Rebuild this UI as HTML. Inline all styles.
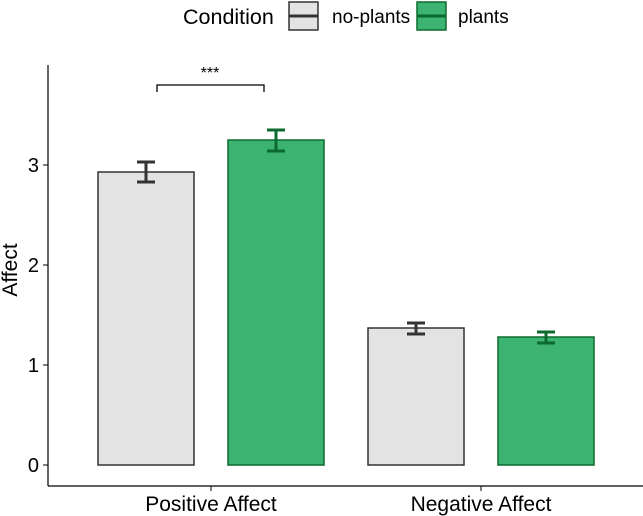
<!DOCTYPE html>
<html><head><meta charset="utf-8"><style>
body{margin:0;background:#fff;}
svg{display:block;font-family:"Liberation Sans",Arial,sans-serif;}
</style></head><body>
<svg id="chart" width="643" height="516">
<g id="legend">
<text x="183" y="24" font-size="21.5">Condition</text>
<g>
<rect x="289" y="2" width="29" height="28" fill="#e3e3e3" stroke="#333" stroke-width="1.5"/>
<line x1="289" y1="16" x2="318" y2="16" stroke="#333" stroke-width="3"/>
<text x="332" y="23" font-size="19">no‑plants</text></g>
<g>
<rect x="417" y="2" width="29" height="28" fill="#3cb371" stroke="#0b6a2e" stroke-width="1.5"/>
<line x1="417" y1="16" x2="446" y2="16" stroke="#0b6a2e" stroke-width="3"/>
<text x="458" y="23" font-size="19">plants</text></g>
</g>
<g id="plot"></g>
</svg>
<script>
const categories=["Positive Affect","Negative Affect"];
const noPlants=[2.93,1.37];
const plants=[3.25,1.28];
const noPlantsLo=[2.83,1.31], noPlantsHi=[3.03,1.42];
const plantsLo=[3.14,1.22], plantsHi=[3.35,1.33];
const yTicks=[0,1,2,3];
const NS="http://www.w3.org/2000/svg";
const g=document.getElementById('plot');
const y=v=>465-v*100;
const groupCenter=i=>211+i*270;
function mk(t,a){const e=document.createElementNS(NS,t);for(const k in a)e.setAttribute(k,a[k]);g.appendChild(e);return e;}
let ax=mk('line',{x1:48,y1:65,x2:48,y2:486,stroke:'#000','stroke-width':1.2});


let xl=mk('line',{x1:48,y1:486,x2:643,y2:486,stroke:'#000','stroke-width':1.2});


yTicks.forEach(t=>{
 let l=mk('line',{x1:43,x2:48,y1:y(t),y2:y(t),stroke:'#000'});
 
 
 let tx=mk('text',{x:39,y:y(t)+7,'text-anchor':'end','font-size':20});
 tx.textContent=t;
 
 
});
let yt=mk('text',{transform:'translate(17,270) rotate(-90)','text-anchor':'middle','font-size':21});
yt.textContent='Affect';


categories.forEach((c,i)=>{
 const cx=groupCenter(i);
 let l=mk('line',{x1:cx,x2:cx,y1:486,y2:491,stroke:'#000'});
 
 
 let tx=mk('text',{x:cx,y:511,'text-anchor':'middle','font-size':21});
 tx.textContent=c;
 
 
 [[noPlants,noPlantsLo,noPlantsHi,'#e3e3e3','#333',-1],[plants,plantsLo,plantsHi,'#3cb371','#0b6a2e',1]].forEach(([v,lo,hi,f,s,d])=>{
  const bx=cx+(d<0?-113:17), w=96;
  let r=mk('rect',{x:bx,y:y(v[i]),width:w,height:y(0)-y(v[i]),fill:f,stroke:s,'stroke-width':1.5});
  
  
  const m=bx+w/2;
  let e=mk('path',{d:`M${m-9},${y(hi[i])}H${m+9}M${m},${y(hi[i])}V${y(lo[i])}M${m-9},${y(lo[i])}H${m+9}`,stroke:s,'stroke-width':3,fill:'none'});
  
  
 });
});
let br=mk('path',{d:'M157,92V85H264V92',stroke:'#000','stroke-width':1.3,fill:'none'});


let st=mk('text',{x:210,y:78,'text-anchor':'middle','font-size':16});
st.textContent='***';


</script>
</body></html>
